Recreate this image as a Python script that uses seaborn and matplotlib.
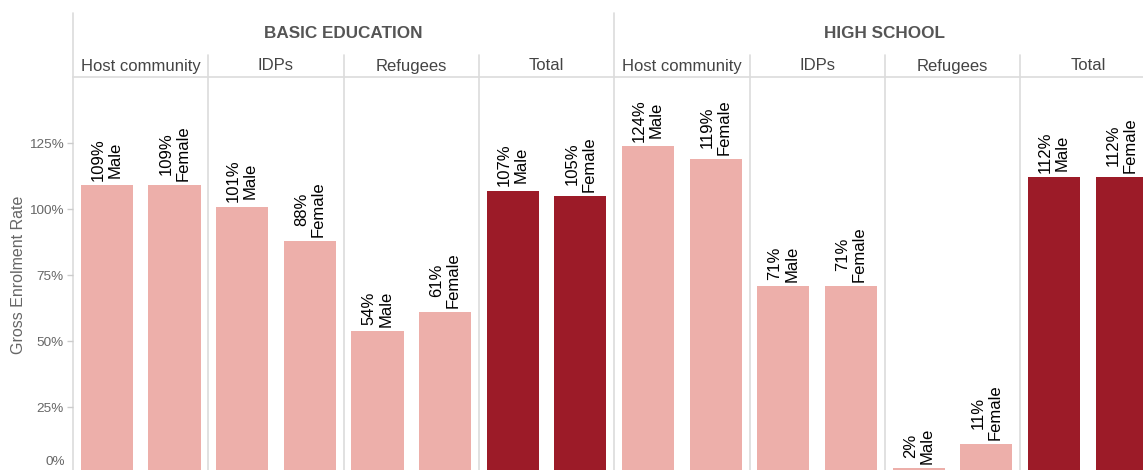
import matplotlib
matplotlib.use("Agg")
import matplotlib.pyplot as plt
import pandas as pd
import seaborn as sns
from matplotlib.transforms import blended_transform_factory

# ---------------- data ----------------
levels = ["BASIC EDUCATION", "HIGH SCHOOL"]
groups = ["Host community", "IDPs", "Refugees", "Total"]
sexes = ["Male", "Female"]
basic_values = [109, 109, 101, 88, 54, 61, 107, 105]
high_values = [124, 119, 71, 71, 2, 11, 112, 112]
y_ticks = [25, 50, 75, 100, 125]

values_by_level = {"BASIC EDUCATION": basic_values, "HIGH SCHOOL": high_values}
rows = []
for lvl in levels:
    vals = values_by_level[lvl]
    k = 0
    for g in groups:
        for s in sexes:
            rows.append({"level": lvl, "group": g, "sex": s, "value": vals[k],
                         "key": f"{lvl}|{g}|{s}",
                         "kind": "Total" if g == "Total" else "Group"})
            k += 1
df = pd.DataFrame(rows)
keys = list(df["key"])

# ---------------- style ----------------
sns.set_theme(style="white")
plt.rcParams["font.family"] = ["Liberation Sans", "DejaVu Sans"]

LIGHT = "#EDAFAA"
DARK = "#9C1B28"
LINE = "#DCDCDC"

W, H = 1143, 470
fig = plt.figure(figsize=(W / 100, H / 100), dpi=100)
px_unit = 67.66
ax = fig.add_axes([73 / W, -3.5 / H, 16 * px_unit / W, (H - 77 + 3.5) / H])

sns.barplot(data=df, x="key", y="value", hue="kind", order=keys,
            palette={"Group": LIGHT, "Total": DARK}, dodge=False,
            width=0.77, saturation=1, legend=False, ax=ax, linewidth=0)

ax.set_xlim(-0.5, 15.5)
ax.set_ylim(0, 150)
ax.set_xticks([])
ax.set_xlabel("")
ax.set_yticks(y_ticks)
ax.set_yticklabels([f"{t}%" for t in y_ticks])
ax.tick_params(axis="y", length=4, width=1, color="#CCCCCC", labelsize=9.7,
               labelcolor="#666666", pad=3, left=True)
ax.set_ylabel("Gross Enrolment Rate", fontsize=11.5, color="#666666")
ax.yaxis.set_label_coords(-0.043, 0.5)

for side in ["left", "right", "bottom"]:
    ax.spines[side].set_visible(False)
ax.spines["top"].set_color(LINE)
ax.spines["top"].set_linewidth(1.2)

fig.text(65 / W, 2 / H, "0%", ha="right", va="bottom", fontsize=9.7, color="#666666")

# bar labels
for i, row in df.iterrows():
    ax.annotate(f"{row['value']}%\n{row['sex']}", (i, row["value"]),
                xytext=(0, 3), textcoords="offset points", rotation=90,
                ha="center", va="bottom", multialignment="center",
                fontsize=12, color="black", linespacing=1.15)

# separators and headers
trans = blended_transform_factory(ax.transData, fig.transFigure)
for x in [-0.5, 7.5]:
    ax.plot([x, x], [-0.01, 1 - 13 / H], transform=trans, color=LINE, lw=1.2,
            clip_on=False, zorder=0)
for x in [1.5, 3.5, 5.5, 9.5, 11.5, 13.5]:
    ax.plot([x, x], [-0.01, 1 - 55 / H], transform=trans, color=LINE, lw=1.2,
            clip_on=False, zorder=0)

for li, lvl in enumerate(levels):
    ax.text(li * 8 + 3.5, 1 - 33 / H, lvl, transform=trans, ha="center",
            va="center", fontsize=12.3, fontweight="bold", color="#555555")
    for gi, g in enumerate(groups):
        ax.text(li * 8 + gi * 2 + 0.5, 1 - 66 / H, g, transform=trans,
                ha="center", va="center", fontsize=12, color="#444444")

fig.savefig("out.png", dpi=100)
